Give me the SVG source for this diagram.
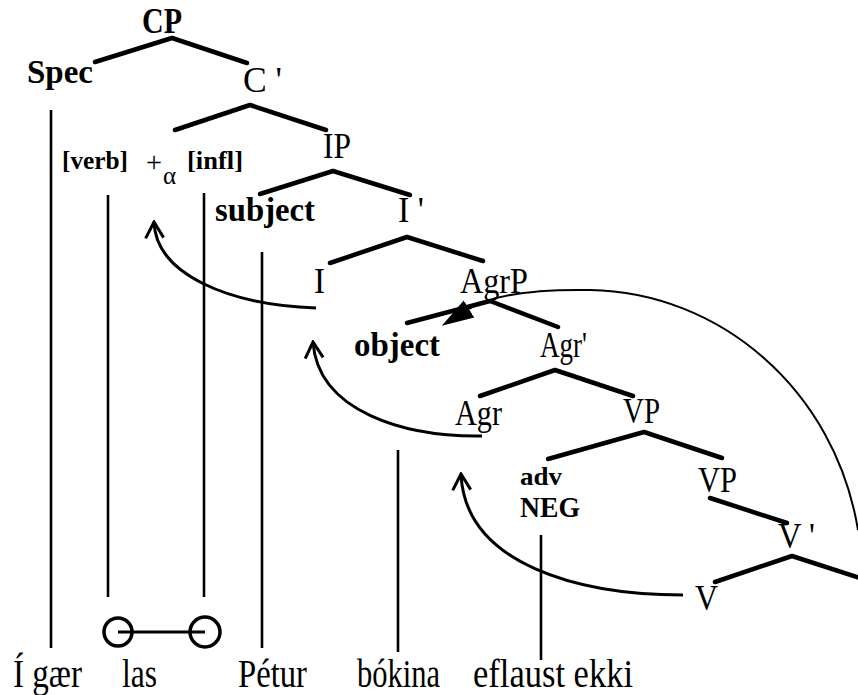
<svg xmlns="http://www.w3.org/2000/svg" width="858" height="695" viewBox="0 0 858 695">
<style>
text{font-family:"Liberation Serif","Times New Roman",serif;fill:#000}
.n{font-size:35px}
.b{font-size:34px;font-weight:bold}
.s{font-size:25px;font-weight:bold}
.w{font-size:39px}
.br{fill:none;stroke:#000;stroke-width:4.5;stroke-linecap:round;stroke-linejoin:round}
.vl{fill:none;stroke:#000;stroke-width:2.6}
.mv{fill:none;stroke:#000;stroke-width:3}
.arc{fill:none;stroke:#000;stroke-width:2}
</style>
<defs>
<marker id="open" markerUnits="userSpaceOnUse" viewBox="-18 -11 20 22" refX="0" refY="0" markerWidth="20" markerHeight="22" orient="auto">
<path d="M-16,-9 L0,0 L-16,9" fill="none" stroke="#000" stroke-width="3"/>
</marker>
<marker id="solid" markerUnits="userSpaceOnUse" viewBox="0 -11 34 22" refX="0" refY="0" markerWidth="34" markerHeight="22" orient="auto">
<path d="M0,-10 L32,0 L0,10 Z" fill="#000"/>
</marker>
</defs>

<g id="connectors">
<polyline class="br" points="95,62 172,38 247,63"/>
<polyline class="br" points="175,130 250,105 326,130"/>
<polyline class="br" points="260,194 333,171 410,195"/>
<polyline class="br" points="330,263 407,237 483,261"/>
<polyline class="br" points="407,323 490,301 558,327"/>
<polyline class="br" points="480,396 555,370 633,396"/>
<polyline class="br" points="548,459 644,432 722,458"/>
<line class="br" x1="710" y1="498" x2="787" y2="523"/>
<polyline class="br" points="715,582 792,556 860,578"/>
<line class="vl" x1="51" y1="110" x2="51" y2="648"/>
<line class="vl" x1="108" y1="195" x2="108" y2="597"/>
<line class="vl" x1="204" y1="193" x2="204" y2="597"/>
<line class="vl" x1="262" y1="252" x2="262" y2="648"/>
<line class="vl" x1="398" y1="450" x2="398" y2="652"/>
<line class="vl" x1="541" y1="535" x2="541" y2="660"/>
<path class="mv" d="M316,308 C230,305 156,275 154,222" marker-end="url(#open)"/>
<path class="mv" d="M482,436 C405,437 318,412 313,342" marker-end="url(#open)"/>
<path class="mv" d="M683,595 C580,595 465,565 461,474" marker-end="url(#open)"/>
<path class="arc" d="M858,530 C835,390 720,292 590,290 C530,289 490,296 469,309" marker-end="url(#solid)"/>
</g>

<g id="link-circles" fill="none" stroke="#000" stroke-width="3.5">
<circle cx="118" cy="632" r="14"/>
<circle cx="205" cy="632" r="15"/>
<line x1="118" y1="632" x2="205" y2="632" stroke-width="3"/>
</g>

<g id="node-CP"><text class="n" x="142" y="33" textLength="40" lengthAdjust="spacingAndGlyphs" style="font-weight:bold">CP</text></g>
<g id="node-Spec"><text class="b" x="27" y="83" textLength="66" lengthAdjust="spacingAndGlyphs">Spec</text></g>
<g id="node-Cbar"><text class="n" x="243" y="92" textLength="39" lengthAdjust="spacingAndGlyphs">C '</text></g>
<g id="node-C">
<text class="s" x="62" y="169" textLength="66" lengthAdjust="spacingAndGlyphs">[verb]</text>
<text x="146" y="172" style="font-size:30px" textLength="16" lengthAdjust="spacingAndGlyphs">+</text>
<text x="163" y="184" style="font-size:25px">α</text>
<text class="s" x="187" y="169" textLength="56" lengthAdjust="spacingAndGlyphs">[infl]</text>
</g>
<g id="node-IP"><text class="n" x="323" y="158" textLength="28" lengthAdjust="spacingAndGlyphs">IP</text></g>
<g id="node-subject"><text class="b" x="215" y="221" textLength="100" lengthAdjust="spacingAndGlyphs">subject</text></g>
<g id="node-Ibar"><text class="n" x="398" y="222" textLength="26" lengthAdjust="spacingAndGlyphs">I '</text></g>
<g id="node-I"><text class="n" x="314" y="293" textLength="11" lengthAdjust="spacingAndGlyphs">I</text></g>
<g id="node-AgrP"><text class="n" x="460" y="293" textLength="68" lengthAdjust="spacingAndGlyphs">AgrP</text></g>
<g id="node-object"><text class="b" x="354" y="356" textLength="86" lengthAdjust="spacingAndGlyphs">object</text></g>
<g id="node-Agrbar"><text class="n" x="540" y="357" textLength="47" lengthAdjust="spacingAndGlyphs">Agr'</text></g>
<g id="node-Agr"><text class="n" x="455" y="425" textLength="47" lengthAdjust="spacingAndGlyphs">Agr</text></g>
<g id="node-VP1"><text class="n" x="623" y="423" textLength="37" lengthAdjust="spacingAndGlyphs">VP</text></g>
<g id="node-advNEG">
<text x="520" y="485" style="font-size:25px;font-weight:bold" textLength="42" lengthAdjust="spacingAndGlyphs">adv</text>
<text x="520" y="517" style="font-size:30px;font-weight:bold" textLength="60" lengthAdjust="spacingAndGlyphs">NEG</text>
</g>
<g id="node-VP2"><text class="n" x="698" y="492" textLength="39" lengthAdjust="spacingAndGlyphs">VP</text></g>
<g id="node-Vbar"><text class="n" x="778" y="548" textLength="37" lengthAdjust="spacingAndGlyphs">V '</text></g>
<g id="node-V"><text class="n" x="695" y="610" textLength="23" lengthAdjust="spacingAndGlyphs">V</text></g>

<g id="words">
<text class="w" x="13" y="687" textLength="69" lengthAdjust="spacingAndGlyphs">Í gær</text>
<text class="w" x="122" y="687" textLength="35" lengthAdjust="spacingAndGlyphs">las</text>
<text class="w" x="238" y="687" textLength="69" lengthAdjust="spacingAndGlyphs">Pétur</text>
<text class="w" x="357" y="687" textLength="83" lengthAdjust="spacingAndGlyphs">bókina</text>
<text class="w" x="473" y="687" textLength="160" lengthAdjust="spacingAndGlyphs">eflaust ekki</text>
</g>
</svg>
